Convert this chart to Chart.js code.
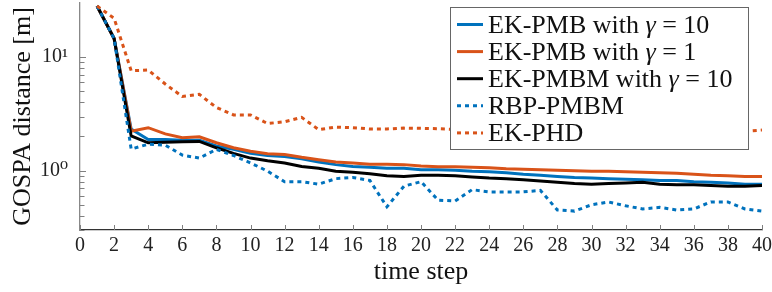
<!DOCTYPE html>
<html>
<head>
<meta charset="utf-8">
<script src="https://cdn.jsdelivr.net/npm/chart.js@4/dist/chart.umd.min.js"></script>
<style>
  html, body { margin: 0; padding: 0; background: #fff; }
  #wrap { width: 772px; height: 292px; }
</style>
</head>
<body>
<div id="wrap"><canvas id="myChart"></canvas></div>
<script>
// time steps
const STEPS = [1, 2, 3, 4, 5, 6, 7, 8, 9, 10, 11, 12, 13, 14, 15, 16, 17, 18, 19, 20,
  21, 22, 23, 24, 25, 26, 27, 28, 29, 30, 31, 32, 33, 34, 35, 36, 37, 38, 39, 40];

// GOSPA values
const EK_PMB_G10 = [28.2, 14.6, 2.33, 1.88, 1.88, 1.85, 1.85, 1.65, 1.54, 1.42,
  1.36, 1.33, 1.27, 1.19, 1.13, 1.09, 1.07, 1.05, 1.05, 1.02,
  1.02, 1.01, 0.99, 0.98, 0.96, 0.93, 0.91, 0.89, 0.87, 0.86,
  0.85, 0.84, 0.83, 0.82, 0.82, 0.8, 0.79, 0.78, 0.76, 0.76];
const EK_PMB_G1 = [28.2, 14.6, 2.23, 2.39, 2.11, 1.95, 1.99, 1.76, 1.59, 1.48,
  1.41, 1.39, 1.31, 1.25, 1.19, 1.17, 1.14, 1.14, 1.13, 1.1,
  1.08, 1.08, 1.07, 1.06, 1.04, 1.03, 1.02, 1.01, 1.0, 0.99,
  0.99, 0.98, 0.97, 0.96, 0.95, 0.93, 0.91, 0.9, 0.89, 0.89];
const EK_PMBM_G10 = [28.2, 14.6, 2.02, 1.76, 1.78, 1.8, 1.81, 1.59, 1.42, 1.29,
  1.22, 1.17, 1.09, 1.05, 0.99, 0.97, 0.94, 0.9, 0.89, 0.91,
  0.91, 0.9, 0.88, 0.86, 0.85, 0.83, 0.81, 0.79, 0.77, 0.76,
  0.77, 0.78, 0.79, 0.76, 0.75, 0.75, 0.74, 0.73, 0.73, 0.74];
const RBP_PMBM = [28.2, 14.6, 1.55, 1.71, 1.68, 1.37, 1.29, 1.54, 1.36, 1.17,
  0.99, 0.8, 0.8, 0.76, 0.85, 0.87, 0.82, 0.48, 0.73, 0.8,
  0.55, 0.54, 0.68, 0.65, 0.65, 0.65, 0.67, 0.45, 0.44, 0.5,
  0.53, 0.49, 0.46, 0.475, 0.45, 0.46, 0.53, 0.53, 0.46, 0.44];
const EK_PHD = [28.2, 22, 7.6, 7.7, 5.8, 4.5, 4.7, 3.6, 3.1, 3.1,
  2.6, 2.7, 2.95, 2.3, 2.42, 2.39, 2.33, 2.33, 2.37, 2.36,
  2.34, 2.31, 2.3, 2.32, 2.3, 2.29, 2.31, 2.3, 2.28, 2.3,
  2.31, 2.29, 2.3, 2.3, 2.28, 2.29, 2.3, 2.27, 2.22, 2.28];

const LEGEND_LABELS = [
  "EK-PMB with γ = 10",
  "EK-PMB with γ = 1",
  "EK-PMBM with γ = 10",
  "RBP-PMBM",
  "EK-PHD",
];

// axis ticks
const X_TICKS = [0, 2, 4, 6, 8, 10, 12, 14, 16, 18, 20, 22, 24, 26, 28, 30, 32, 34, 36, 38, 40];
const Y_MAJOR = [1, 10];
const Y_MAJOR_LABELS = ["10⁰", "10¹"];
const Y_MINOR = [0.3, 0.4, 0.5, 0.6, 0.7, 0.8, 0.9, 2, 3, 4, 5, 6, 7, 8, 9];

const BLUE = "#0072BD";
const ORANGE = "#D95319";
const SERIF = "'Liberation Serif', 'DejaVu Serif', serif";

const pts = (vals) => STEPS.map((t, i) => ({ x: t, y: vals[i] }));

// inward ticks, like the original plot
const axisTicks = {
  id: "axisTicks",
  afterDatasetsDraw(chart) {
    const { ctx, chartArea, scales } = chart;
    const x = scales.x, y = scales.y;
    ctx.save();
    ctx.strokeStyle = "#808080";
    ctx.lineWidth = 1;
    ctx.beginPath();
    X_TICKS.forEach((v) => {
      const px = Math.round(x.getPixelForValue(v)) + 0.5;
      ctx.moveTo(px, chartArea.bottom);
      ctx.lineTo(px, chartArea.bottom - 5);
    });
    Y_MAJOR.forEach((v) => {
      const py = Math.round(y.getPixelForValue(v)) + 0.5;
      ctx.moveTo(chartArea.left, py);
      ctx.lineTo(chartArea.left + 6, py);
    });
    Y_MINOR.forEach((v) => {
      const py = Math.round(y.getPixelForValue(v)) + 0.5;
      ctx.moveTo(chartArea.left, py);
      ctx.lineTo(chartArea.left + 4.5, py);
    });
    ctx.stroke();
    ctx.restore();
  },
};

// boxed legend on top of the lines
const boxLegend = {
  id: "boxLegend",
  afterDraw(chart) {
    const { ctx } = chart;
    const bx = 450, by = 7, bw = 298, bh = 142;
    ctx.save();
    ctx.fillStyle = "#fff";
    ctx.fillRect(bx, by, bw, bh);
    ctx.strokeStyle = "#666";
    ctx.lineWidth = 1;
    ctx.strokeRect(bx + 0.5, by + 0.5, bw, bh);

    chart.data.datasets.forEach((ds, i) => {
      const cy = 24.5 + i * 27.1;
      ctx.strokeStyle = ds.borderColor;
      ctx.lineWidth = ds.borderWidth;
      ctx.setLineDash(ds.borderDash || []);
      ctx.beginPath();
      ctx.moveTo(457, cy);
      ctx.lineTo(483, cy);
      ctx.stroke();
      ctx.setLineDash([]);

      ctx.fillStyle = "#111";
      ctx.textBaseline = "alphabetic";
      const parts = ds.label.split("γ");
      let tx = 488;
      const ty = cy + 8;
      parts.forEach((p, k) => {
        ctx.font = "26px " + SERIF;
        ctx.fillText(p, tx, ty);
        tx += ctx.measureText(p).width;
        if (k < parts.length - 1) {
          ctx.font = "italic 26px " + SERIF;
          ctx.fillText("γ", tx, ty);
          tx += ctx.measureText("γ").width;
        }
      });
    });
    ctx.restore();
  },
};

const ctx = document.getElementById("myChart").getContext("2d");
const myChart = new Chart(ctx, {
  type: "line",
  data: {
    datasets: [
      { label: LEGEND_LABELS[0], data: pts(EK_PMB_G10), borderColor: BLUE, borderWidth: 3, order: 5 },
      { label: LEGEND_LABELS[1], data: pts(EK_PMB_G1), borderColor: ORANGE, borderWidth: 3, order: 4 },
      { label: LEGEND_LABELS[2], data: pts(EK_PMBM_G10), borderColor: "#000", borderWidth: 3, order: 3 },
      { label: LEGEND_LABELS[3], data: pts(RBP_PMBM), borderColor: BLUE, borderWidth: 3, borderDash: [4, 4], order: 2 },
      { label: LEGEND_LABELS[4], data: pts(EK_PHD), borderColor: ORANGE, borderWidth: 3, borderDash: [4, 4], order: 1 },
    ].map((d) => ({ ...d, pointRadius: 0, fill: false, tension: 0, borderCapStyle: "butt" })),
  },
  options: {
    responsive: true,
    maintainAspectRatio: false,
    animation: false,
    devicePixelRatio: 1,
    layout: { padding: { top: 3, right: 10, left: 0, bottom: 0 } },
    plugins: {
      legend: { display: false },
      tooltip: { enabled: false },
    },
    scales: {
      x: {
        type: "linear",
        min: 0,
        max: 40,
        afterBuildTicks: (s) => { s.ticks = X_TICKS.map((v) => ({ value: v })); },
        ticks: { font: { family: SERIF, size: 20 }, color: "#222", padding: 4, maxRotation: 0 },
        grid: { display: false, drawTicks: false },
        border: { display: true, color: "#333", width: 1.3 },
        title: { display: true, text: "time step", color: "#111", font: { family: SERIF, size: 26, lineHeight: 1.2 }, padding: { top: 0, bottom: 4 } },
        afterFit: (s) => { s.height = 62; s.paddingLeft = 0; s.paddingRight = 0; },
      },
      y: {
        type: "logarithmic",
        min: 0.3,
        max: 30,
        afterBuildTicks: (s) => { s.ticks = Y_MAJOR.map((v) => ({ value: v })); },
        ticks: {
          font: { family: SERIF, size: 20 },
          color: "#222",
          padding: 12,
          callback: (v) => Y_MAJOR_LABELS[Y_MAJOR.indexOf(v)],
        },
        grid: { display: false, drawTicks: false },
        border: { display: true, color: "#888", width: 1.3 },
        title: { display: true, text: "GOSPA distance [m]", color: "#111", font: { family: SERIF, size: 26, lineHeight: 1.2 }, padding: { top: 8, bottom: 0 } },
        afterFit: (s) => { s.width = 80; s.paddingTop = 0; s.paddingBottom = 0; },
      },
    },
  },
  plugins: [axisTicks, boxLegend],
});
</script>
</body>
</html>
